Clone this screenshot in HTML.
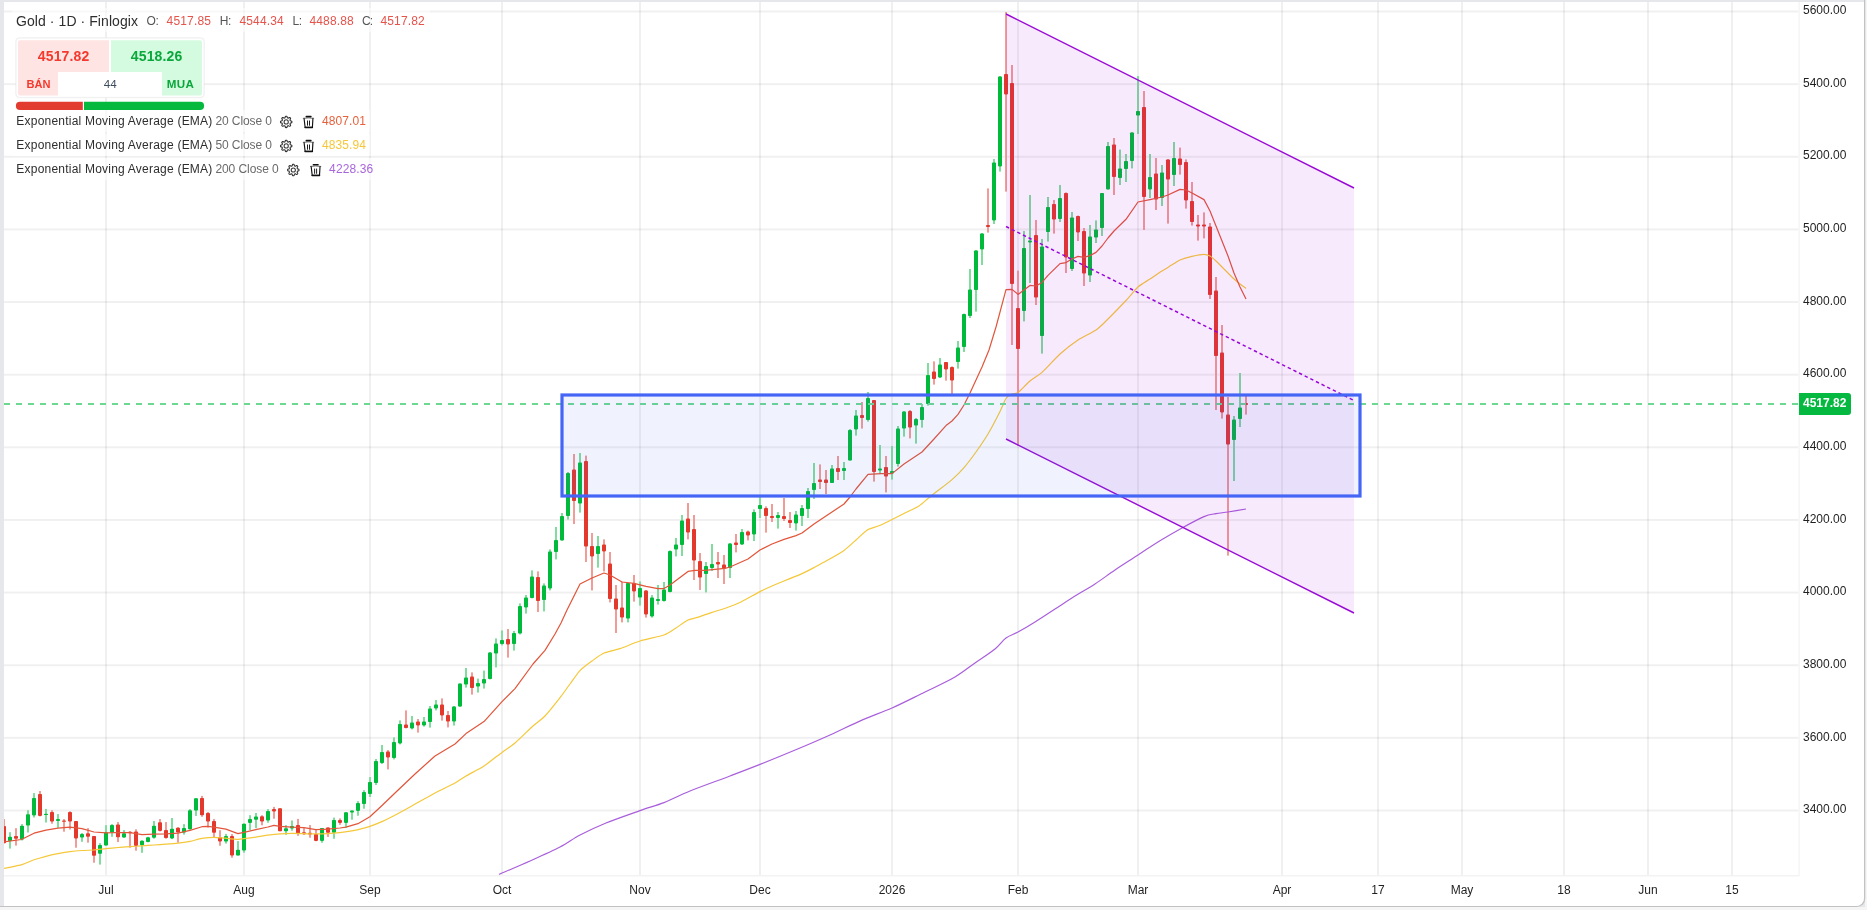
<!DOCTYPE html>
<html lang="vi"><head><meta charset="utf-8"><title>Gold 1D Finlogix</title>
<style>html,body{margin:0;padding:0;background:#f5f5f5}body{width:1867px;height:910px;overflow:hidden;position:relative;font-family:"Liberation Sans",Arial,sans-serif}</style>
</head><body>
<svg width="1867" height="910" viewBox="0 0 1867 910" style="position:absolute;left:0;top:0;display:block;will-change:transform" font-family="'Liberation Sans', Arial, sans-serif">
<rect x="0" y="0" width="1867" height="910" fill="#f5f5f5"/>
<rect x="0" y="0" width="1865" height="907" fill="#e5e7eb"/>
<path d="M0 0H1865.3V898.5a8.5 8.5 0 0 1 -8.5 8.5H0Z" fill="#c2c2c2"/>
<path d="M0 0H1864V898a8 8 0 0 1 -8 8H0Z" fill="#e5e7eb"/>
<path d="M4 2H1864V898a8 8 0 0 1 -8 8H4Z" fill="#ffffff"/>
<g fill="#000000" fill-opacity="0.058">
<rect x="105" y="2" width="2" height="873.5"/>
<rect x="243" y="2" width="2" height="873.5"/>
<rect x="369" y="2" width="2" height="873.5"/>
<rect x="501" y="2" width="2" height="873.5"/>
<rect x="639" y="2" width="2" height="873.5"/>
<rect x="759" y="2" width="2" height="873.5"/>
<rect x="891" y="2" width="2" height="873.5"/>
<rect x="1017" y="2" width="2" height="873.5"/>
<rect x="1137" y="2" width="2" height="873.5"/>
<rect x="1281" y="2" width="2" height="873.5"/>
<rect x="1377" y="2" width="2" height="873.5"/>
<rect x="1461" y="2" width="2" height="873.5"/>
<rect x="1563" y="2" width="2" height="873.5"/>
<rect x="1647" y="2" width="2" height="873.5"/>
<rect x="1731" y="2" width="2" height="873.5"/>
<rect x="4" y="10.50" width="1794.5" height="2"/>
<rect x="4" y="83.14" width="1794.5" height="2"/>
<rect x="4" y="155.77" width="1794.5" height="2"/>
<rect x="4" y="228.41" width="1794.5" height="2"/>
<rect x="4" y="301.04" width="1794.5" height="2"/>
<rect x="4" y="373.68" width="1794.5" height="2"/>
<rect x="4" y="446.32" width="1794.5" height="2"/>
<rect x="4" y="518.95" width="1794.5" height="2"/>
<rect x="4" y="591.59" width="1794.5" height="2"/>
<rect x="4" y="664.22" width="1794.5" height="2"/>
<rect x="4" y="736.86" width="1794.5" height="2"/>
<rect x="4" y="809.50" width="1794.5" height="2"/>
</g>
<rect x="4" y="875" width="1795" height="1.5" fill="#f3f3f5"/>
<rect x="1798.5" y="2" width="1.2" height="874" fill="#f3f3f5"/>
<defs><clipPath id="plot"><rect x="4" y="2" width="1795" height="873.5"/></clipPath></defs>
<g clip-path="url(#plot)">
<g shape-rendering="crispEdges">
</g>
<g>
<rect x="4" y="819.1" width="1" height="24.4" fill="#f19c96"/>
<rect x="9" y="832.2" width="2" height="16.4" fill="#80dd9d"/>
<rect x="15" y="828.2" width="2" height="17.4" fill="#f19c96"/>
<rect x="21" y="824.1" width="2" height="16.4" fill="#80dd9d"/>
<rect x="27" y="810.2" width="2" height="22.3" fill="#80dd9d"/>
<rect x="33" y="793.1" width="2" height="24.4" fill="#80dd9d"/>
<rect x="39" y="791.0" width="2" height="25.4" fill="#f19c96"/>
<rect x="45" y="808.9" width="2" height="13.6" fill="#80dd9d"/>
<rect x="51" y="810.2" width="2" height="13.5" fill="#f19c96"/>
<rect x="57" y="814.1" width="2" height="13.6" fill="#80dd9d"/>
<rect x="63" y="819.1" width="2" height="12.6" fill="#f19c96"/>
<rect x="69" y="811.3" width="2" height="18.2" fill="#f19c96"/>
<rect x="75" y="821.0" width="2" height="26.7" fill="#f19c96"/>
<rect x="81" y="833.0" width="2" height="8.8" fill="#80dd9d"/>
<rect x="87" y="828.2" width="2" height="14.5" fill="#f19c96"/>
<rect x="93" y="835.9" width="2" height="26.8" fill="#f19c96"/>
<rect x="99" y="843.2" width="2" height="21.4" fill="#80dd9d"/>
<rect x="105" y="825.2" width="2" height="20.4" fill="#80dd9d"/>
<rect x="111" y="824.1" width="2" height="12.7" fill="#80dd9d"/>
<rect x="117" y="822.1" width="2" height="20.0" fill="#f19c96"/>
<rect x="123" y="830.1" width="2" height="7.7" fill="#80dd9d"/>
<rect x="129" y="831.2" width="2" height="16.5" fill="#f19c96"/>
<rect x="135" y="829.3" width="2" height="21.4" fill="#f19c96"/>
<rect x="141" y="840.2" width="2" height="12.6" fill="#80dd9d"/>
<rect x="147" y="836.8" width="2" height="5.5" fill="#80dd9d"/>
<rect x="153" y="821.0" width="2" height="17.7" fill="#80dd9d"/>
<rect x="159" y="819.1" width="2" height="12.3" fill="#f19c96"/>
<rect x="165" y="822.1" width="2" height="16.6" fill="#f19c96"/>
<rect x="171" y="818.0" width="2" height="21.1" fill="#80dd9d"/>
<rect x="177" y="827.1" width="2" height="15.6" fill="#f19c96"/>
<rect x="183" y="824.1" width="2" height="10.5" fill="#80dd9d"/>
<rect x="189" y="809.1" width="2" height="20.7" fill="#80dd9d"/>
<rect x="195" y="798.0" width="2" height="17.9" fill="#80dd9d"/>
<rect x="201" y="795.9" width="2" height="20.9" fill="#f19c96"/>
<rect x="207" y="812.0" width="2" height="15.5" fill="#f19c96"/>
<rect x="213" y="819.1" width="2" height="18.0" fill="#f19c96"/>
<rect x="219" y="830.2" width="2" height="15.5" fill="#f19c96"/>
<rect x="225" y="833.9" width="2" height="9.7" fill="#80dd9d"/>
<rect x="231" y="834.1" width="2" height="23.6" fill="#f19c96"/>
<rect x="237" y="841.1" width="2" height="14.5" fill="#80dd9d"/>
<rect x="243" y="823.4" width="2" height="29.3" fill="#80dd9d"/>
<rect x="249" y="815.2" width="2" height="15.0" fill="#80dd9d"/>
<rect x="255" y="813.0" width="2" height="15.2" fill="#80dd9d"/>
<rect x="261" y="815.2" width="2" height="10.1" fill="#f19c96"/>
<rect x="267" y="809.1" width="2" height="13.6" fill="#80dd9d"/>
<rect x="273" y="806.9" width="2" height="11.8" fill="#f19c96"/>
<rect x="279" y="808.2" width="2" height="23.0" fill="#f19c96"/>
<rect x="285" y="825.1" width="2" height="9.7" fill="#80dd9d"/>
<rect x="291" y="820.5" width="2" height="10.2" fill="#80dd9d"/>
<rect x="297" y="818.9" width="2" height="16.9" fill="#f19c96"/>
<rect x="303" y="828.0" width="2" height="6.8" fill="#f19c96"/>
<rect x="309" y="825.1" width="2" height="12.6" fill="#f19c96"/>
<rect x="315" y="829.6" width="2" height="11.6" fill="#f19c96"/>
<rect x="321" y="828.0" width="2" height="14.7" fill="#80dd9d"/>
<rect x="327" y="827.2" width="2" height="9.7" fill="#f19c96"/>
<rect x="333" y="817.6" width="2" height="21.1" fill="#80dd9d"/>
<rect x="339" y="818.4" width="2" height="6.4" fill="#f19c96"/>
<rect x="345" y="812.0" width="2" height="15.7" fill="#80dd9d"/>
<rect x="351" y="810.4" width="2" height="9.3" fill="#80dd9d"/>
<rect x="357" y="801.2" width="2" height="14.5" fill="#80dd9d"/>
<rect x="363" y="790.2" width="2" height="18.5" fill="#80dd9d"/>
<rect x="369" y="777.1" width="2" height="19.9" fill="#80dd9d"/>
<rect x="375" y="759.0" width="2" height="26.0" fill="#80dd9d"/>
<rect x="381" y="745.0" width="2" height="19.0" fill="#80dd9d"/>
<rect x="387" y="750.0" width="2" height="19.4" fill="#f19c96"/>
<rect x="393" y="737.4" width="2" height="22.0" fill="#80dd9d"/>
<rect x="399" y="720.4" width="2" height="24.0" fill="#80dd9d"/>
<rect x="405" y="710.4" width="2" height="18.0" fill="#f19c96"/>
<rect x="411" y="716.0" width="2" height="13.4" fill="#80dd9d"/>
<rect x="417" y="719.0" width="2" height="13.6" fill="#f19c96"/>
<rect x="423" y="717.0" width="2" height="9.6" fill="#80dd9d"/>
<rect x="429" y="706.0" width="2" height="21.6" fill="#80dd9d"/>
<rect x="435" y="700.0" width="2" height="10.4" fill="#80dd9d"/>
<rect x="441" y="698.4" width="2" height="22.2" fill="#f19c96"/>
<rect x="447" y="711.0" width="2" height="16.4" fill="#f19c96"/>
<rect x="453" y="706.0" width="2" height="19.6" fill="#80dd9d"/>
<rect x="459" y="683.4" width="2" height="23.6" fill="#80dd9d"/>
<rect x="465" y="668.0" width="2" height="19.6" fill="#80dd9d"/>
<rect x="471" y="672.4" width="2" height="22.2" fill="#f19c96"/>
<rect x="477" y="678.6" width="2" height="14.0" fill="#80dd9d"/>
<rect x="483" y="670.6" width="2" height="18.0" fill="#80dd9d"/>
<rect x="489" y="652.0" width="2" height="27.4" fill="#80dd9d"/>
<rect x="495" y="638.4" width="2" height="29.0" fill="#80dd9d"/>
<rect x="501" y="630.4" width="2" height="15.0" fill="#80dd9d"/>
<rect x="507" y="629.0" width="2" height="28.6" fill="#f19c96"/>
<rect x="513" y="631.0" width="2" height="19.6" fill="#80dd9d"/>
<rect x="519" y="603.4" width="2" height="31.0" fill="#80dd9d"/>
<rect x="525" y="595.0" width="2" height="18.6" fill="#80dd9d"/>
<rect x="531" y="570.4" width="2" height="28.0" fill="#80dd9d"/>
<rect x="537" y="571.4" width="2" height="40.6" fill="#f19c96"/>
<rect x="543" y="583.4" width="2" height="28.0" fill="#80dd9d"/>
<rect x="549" y="549.4" width="2" height="41.0" fill="#80dd9d"/>
<rect x="555" y="527.0" width="2" height="32.4" fill="#80dd9d"/>
<rect x="561" y="513.0" width="2" height="27.6" fill="#80dd9d"/>
<rect x="567" y="472.0" width="2" height="47.6" fill="#80dd9d"/>
<rect x="573" y="454.0" width="2" height="70.0" fill="#f19c96"/>
<rect x="579" y="453.0" width="2" height="59.6" fill="#80dd9d"/>
<rect x="585" y="455.6" width="2" height="106.4" fill="#f19c96"/>
<rect x="591" y="533.0" width="2" height="57.4" fill="#f19c96"/>
<rect x="597" y="536.0" width="2" height="31.6" fill="#80dd9d"/>
<rect x="603" y="539.4" width="2" height="32.0" fill="#f19c96"/>
<rect x="609" y="552.0" width="2" height="50.4" fill="#f19c96"/>
<rect x="615" y="585.0" width="2" height="48.0" fill="#f19c96"/>
<rect x="621" y="581.6" width="2" height="40.8" fill="#f19c96"/>
<rect x="627" y="583.0" width="2" height="39.4" fill="#80dd9d"/>
<rect x="633" y="575.0" width="2" height="26.6" fill="#f19c96"/>
<rect x="639" y="581.4" width="2" height="24.2" fill="#80dd9d"/>
<rect x="645" y="590.0" width="2" height="27.6" fill="#f19c96"/>
<rect x="651" y="595.0" width="2" height="22.6" fill="#80dd9d"/>
<rect x="657" y="585.0" width="2" height="19.6" fill="#80dd9d"/>
<rect x="663" y="582.0" width="2" height="19.6" fill="#80dd9d"/>
<rect x="669" y="550.4" width="2" height="42.0" fill="#80dd9d"/>
<rect x="675" y="538.0" width="2" height="18.4" fill="#80dd9d"/>
<rect x="681" y="515.0" width="2" height="41.0" fill="#80dd9d"/>
<rect x="687" y="503.0" width="2" height="36.4" fill="#f19c96"/>
<rect x="693" y="515.0" width="2" height="65.0" fill="#f19c96"/>
<rect x="699" y="553.0" width="2" height="37.0" fill="#f19c96"/>
<rect x="705" y="562.0" width="2" height="30.4" fill="#80dd9d"/>
<rect x="711" y="544.0" width="2" height="27.0" fill="#80dd9d"/>
<rect x="717" y="552.0" width="2" height="26.0" fill="#f19c96"/>
<rect x="723" y="555.0" width="2" height="29.0" fill="#f19c96"/>
<rect x="729" y="543.0" width="2" height="35.0" fill="#80dd9d"/>
<rect x="735" y="534.0" width="2" height="18.4" fill="#f19c96"/>
<rect x="741" y="529.0" width="2" height="16.0" fill="#80dd9d"/>
<rect x="747" y="530.6" width="2" height="9.8" fill="#f19c96"/>
<rect x="753" y="509.4" width="2" height="31.6" fill="#80dd9d"/>
<rect x="759" y="497.0" width="2" height="21.0" fill="#80dd9d"/>
<rect x="765" y="506.4" width="2" height="26.2" fill="#f19c96"/>
<rect x="771" y="504.0" width="2" height="18.0" fill="#f19c96"/>
<rect x="777" y="512.0" width="2" height="16.6" fill="#80dd9d"/>
<rect x="783" y="498.0" width="2" height="23.0" fill="#f19c96"/>
<rect x="789" y="512.0" width="2" height="16.0" fill="#f19c96"/>
<rect x="795" y="511.0" width="2" height="19.6" fill="#80dd9d"/>
<rect x="801" y="505.0" width="2" height="21.0" fill="#80dd9d"/>
<rect x="807" y="488.0" width="2" height="30.0" fill="#80dd9d"/>
<rect x="813" y="463.0" width="2" height="36.0" fill="#80dd9d"/>
<rect x="819" y="464.4" width="2" height="24.6" fill="#f19c96"/>
<rect x="825" y="470.0" width="2" height="24.0" fill="#f19c96"/>
<rect x="831" y="465.0" width="2" height="18.0" fill="#80dd9d"/>
<rect x="837" y="456.0" width="2" height="24.0" fill="#f19c96"/>
<rect x="843" y="462.0" width="2" height="18.0" fill="#80dd9d"/>
<rect x="849" y="429.0" width="2" height="31.6" fill="#80dd9d"/>
<rect x="855" y="410.0" width="2" height="25.6" fill="#80dd9d"/>
<rect x="861" y="402.0" width="2" height="26.6" fill="#f19c96"/>
<rect x="867" y="392.0" width="2" height="29.6" fill="#80dd9d"/>
<rect x="873" y="400.0" width="2" height="81.6" fill="#f19c96"/>
<rect x="879" y="445.0" width="2" height="28.6" fill="#80dd9d"/>
<rect x="885" y="456.0" width="2" height="36.4" fill="#f19c96"/>
<rect x="891" y="446.0" width="2" height="33.6" fill="#80dd9d"/>
<rect x="897" y="426.0" width="2" height="40.6" fill="#80dd9d"/>
<rect x="903" y="411.0" width="2" height="25.6" fill="#80dd9d"/>
<rect x="909" y="410.0" width="2" height="28.4" fill="#f19c96"/>
<rect x="915" y="418.0" width="2" height="25.6" fill="#80dd9d"/>
<rect x="921" y="404.0" width="2" height="23.6" fill="#80dd9d"/>
<rect x="927" y="363.0" width="2" height="42.6" fill="#80dd9d"/>
<rect x="933" y="361.4" width="2" height="23.2" fill="#f19c96"/>
<rect x="939" y="358.0" width="2" height="20.0" fill="#80dd9d"/>
<rect x="945" y="362.0" width="2" height="18.6" fill="#f19c96"/>
<rect x="951" y="366.4" width="2" height="29.6" fill="#f19c96"/>
<rect x="957" y="341.0" width="2" height="27.6" fill="#80dd9d"/>
<rect x="963" y="313.6" width="2" height="38.4" fill="#80dd9d"/>
<rect x="969" y="269.0" width="2" height="49.0" fill="#80dd9d"/>
<rect x="975" y="250.0" width="2" height="61.6" fill="#80dd9d"/>
<rect x="981" y="233.0" width="2" height="32.0" fill="#80dd9d"/>
<rect x="987" y="188.4" width="2" height="44.2" fill="#f19c96"/>
<rect x="993" y="159.0" width="2" height="65.0" fill="#80dd9d"/>
<rect x="999" y="76.0" width="2" height="95.6" fill="#80dd9d"/>
<rect x="1005" y="12.0" width="2" height="179.6" fill="#f19c96"/>
<rect x="1011" y="65.0" width="2" height="280.0" fill="#f19c96"/>
<rect x="1017" y="270.6" width="2" height="175.4" fill="#f19c96"/>
<rect x="1023" y="231.0" width="2" height="90.4" fill="#80dd9d"/>
<rect x="1029" y="195.0" width="2" height="88.0" fill="#80dd9d"/>
<rect x="1035" y="220.0" width="2" height="85.0" fill="#f19c96"/>
<rect x="1041" y="239.0" width="2" height="114.6" fill="#80dd9d"/>
<rect x="1047" y="197.0" width="2" height="44.6" fill="#80dd9d"/>
<rect x="1053" y="200.0" width="2" height="33.6" fill="#f19c96"/>
<rect x="1059" y="185.0" width="2" height="37.0" fill="#80dd9d"/>
<rect x="1065" y="192.4" width="2" height="80.6" fill="#f19c96"/>
<rect x="1071" y="212.0" width="2" height="59.0" fill="#80dd9d"/>
<rect x="1077" y="215.6" width="2" height="25.4" fill="#f19c96"/>
<rect x="1083" y="228.0" width="2" height="58.0" fill="#f19c96"/>
<rect x="1089" y="225.0" width="2" height="57.0" fill="#80dd9d"/>
<rect x="1095" y="220.4" width="2" height="22.6" fill="#80dd9d"/>
<rect x="1101" y="193.0" width="2" height="43.0" fill="#80dd9d"/>
<rect x="1107" y="142.0" width="2" height="47.4" fill="#80dd9d"/>
<rect x="1113" y="138.0" width="2" height="57.0" fill="#f19c96"/>
<rect x="1119" y="149.6" width="2" height="35.4" fill="#80dd9d"/>
<rect x="1125" y="154.0" width="2" height="28.0" fill="#80dd9d"/>
<rect x="1131" y="132.0" width="2" height="36.4" fill="#80dd9d"/>
<rect x="1137" y="76.0" width="2" height="58.0" fill="#80dd9d"/>
<rect x="1143" y="91.0" width="2" height="139.0" fill="#f19c96"/>
<rect x="1149" y="154.0" width="2" height="44.0" fill="#80dd9d"/>
<rect x="1155" y="158.0" width="2" height="52.0" fill="#f19c96"/>
<rect x="1161" y="165.0" width="2" height="41.0" fill="#80dd9d"/>
<rect x="1167" y="159.0" width="2" height="64.6" fill="#f19c96"/>
<rect x="1173" y="142.0" width="2" height="44.0" fill="#80dd9d"/>
<rect x="1179" y="147.6" width="2" height="27.0" fill="#f19c96"/>
<rect x="1185" y="159.4" width="2" height="49.2" fill="#f19c96"/>
<rect x="1191" y="182.0" width="2" height="43.6" fill="#f19c96"/>
<rect x="1197" y="215.0" width="2" height="25.6" fill="#f19c96"/>
<rect x="1203" y="212.4" width="2" height="26.0" fill="#f19c96"/>
<rect x="1209" y="223.0" width="2" height="76.0" fill="#f19c96"/>
<rect x="1215" y="277.0" width="2" height="133.0" fill="#f19c96"/>
<rect x="1221" y="325.0" width="2" height="93.6" fill="#f19c96"/>
<rect x="1227" y="397.0" width="2" height="158.6" fill="#f19c96"/>
<rect x="1233" y="416.0" width="2" height="65.0" fill="#80dd9d"/>
<rect x="1239" y="373.0" width="2" height="54.0" fill="#80dd9d"/>
<rect x="1245" y="396.0" width="2" height="18.6" fill="#f19c96"/>
<rect x="4" y="826.1" width="2" height="17.1" rx="0.8" fill="#e3392c"/>
<rect x="8" y="836.8" width="4" height="4.3" rx="0.8" fill="#00ba3b"/>
<rect x="14" y="835.9" width="4" height="2.8" rx="0.8" fill="#e3392c"/>
<rect x="20" y="825.8" width="4" height="13.7" rx="0.8" fill="#00ba3b"/>
<rect x="26" y="814.3" width="4" height="11.2" rx="0.8" fill="#00ba3b"/>
<rect x="32" y="798.0" width="4" height="17.4" rx="0.8" fill="#00ba3b"/>
<rect x="38" y="794.1" width="4" height="21.8" rx="0.8" fill="#e3392c"/>
<rect x="44" y="813.7" width="4" height="1.4" rx="0.8" fill="#00ba3b"/>
<rect x="50" y="812.1" width="4" height="9.5" rx="0.8" fill="#e3392c"/>
<rect x="56" y="819.1" width="4" height="1.9" rx="0.8" fill="#00ba3b"/>
<rect x="62" y="820.5" width="4" height="1.3" rx="0.8" fill="#e3392c"/>
<rect x="68" y="812.1" width="4" height="9.5" rx="0.8" fill="#e3392c"/>
<rect x="74" y="821.0" width="4" height="17.4" rx="0.8" fill="#e3392c"/>
<rect x="80" y="834.1" width="4" height="3.5" rx="0.8" fill="#00ba3b"/>
<rect x="86" y="833.2" width="4" height="3.6" rx="0.8" fill="#e3392c"/>
<rect x="92" y="835.9" width="4" height="19.9" rx="0.8" fill="#e3392c"/>
<rect x="98" y="845.1" width="4" height="8.6" rx="0.8" fill="#00ba3b"/>
<rect x="104" y="832.2" width="4" height="13.4" rx="0.8" fill="#00ba3b"/>
<rect x="110" y="825.0" width="4" height="7.5" rx="0.8" fill="#00ba3b"/>
<rect x="116" y="824.5" width="4" height="12.8" rx="0.8" fill="#e3392c"/>
<rect x="122" y="833.2" width="4" height="4.3" rx="0.8" fill="#00ba3b"/>
<rect x="128" y="831.7" width="4" height="1.5" rx="0.8" fill="#e3392c"/>
<rect x="134" y="831.4" width="4" height="14.5" rx="0.8" fill="#e3392c"/>
<rect x="140" y="840.8" width="4" height="4.5" rx="0.8" fill="#00ba3b"/>
<rect x="146" y="837.3" width="4" height="4.8" rx="0.8" fill="#00ba3b"/>
<rect x="152" y="825.8" width="4" height="12.0" rx="0.8" fill="#00ba3b"/>
<rect x="158" y="822.3" width="4" height="8.6" rx="0.8" fill="#e3392c"/>
<rect x="164" y="830.1" width="4" height="8.0" rx="0.8" fill="#e3392c"/>
<rect x="170" y="828.7" width="4" height="9.7" rx="0.8" fill="#00ba3b"/>
<rect x="176" y="827.7" width="4" height="4.8" rx="0.8" fill="#e3392c"/>
<rect x="182" y="827.9" width="4" height="4.6" rx="0.8" fill="#00ba3b"/>
<rect x="188" y="810.2" width="4" height="19.1" rx="0.8" fill="#00ba3b"/>
<rect x="194" y="798.2" width="4" height="12.3" rx="0.8" fill="#00ba3b"/>
<rect x="200" y="798.0" width="4" height="17.2" rx="0.8" fill="#e3392c"/>
<rect x="206" y="813.0" width="4" height="8.6" rx="0.8" fill="#e3392c"/>
<rect x="212" y="821.1" width="4" height="11.7" rx="0.8" fill="#e3392c"/>
<rect x="218" y="837.1" width="4" height="4.3" rx="0.8" fill="#e3392c"/>
<rect x="224" y="836.1" width="4" height="5.5" rx="0.8" fill="#00ba3b"/>
<rect x="230" y="836.1" width="4" height="19.5" rx="0.8" fill="#e3392c"/>
<rect x="236" y="849.7" width="4" height="5.9" rx="0.8" fill="#00ba3b"/>
<rect x="242" y="823.7" width="4" height="26.8" rx="0.8" fill="#00ba3b"/>
<rect x="248" y="819.1" width="4" height="3.8" rx="0.8" fill="#00ba3b"/>
<rect x="254" y="816.6" width="4" height="3.1" rx="0.8" fill="#00ba3b"/>
<rect x="260" y="816.2" width="4" height="5.4" rx="0.8" fill="#e3392c"/>
<rect x="266" y="811.1" width="4" height="9.4" rx="0.8" fill="#00ba3b"/>
<rect x="272" y="809.1" width="4" height="2.3" rx="0.8" fill="#e3392c"/>
<rect x="278" y="808.2" width="4" height="23.0" rx="0.8" fill="#e3392c"/>
<rect x="284" y="828.2" width="4" height="3.0" rx="0.8" fill="#00ba3b"/>
<rect x="290" y="825.9" width="4" height="2.7" rx="0.8" fill="#00ba3b"/>
<rect x="296" y="825.1" width="4" height="8.3" rx="0.8" fill="#e3392c"/>
<rect x="302" y="832.3" width="4" height="1.9" rx="0.8" fill="#e3392c"/>
<rect x="308" y="832.8" width="4" height="1.7" rx="0.8" fill="#e3392c"/>
<rect x="314" y="833.9" width="4" height="7.0" rx="0.8" fill="#e3392c"/>
<rect x="320" y="828.0" width="4" height="12.9" rx="0.8" fill="#00ba3b"/>
<rect x="326" y="827.5" width="4" height="5.3" rx="0.8" fill="#e3392c"/>
<rect x="332" y="820.0" width="4" height="12.8" rx="0.8" fill="#00ba3b"/>
<rect x="338" y="820.0" width="4" height="2.9" rx="0.8" fill="#e3392c"/>
<rect x="344" y="812.2" width="4" height="10.7" rx="0.8" fill="#00ba3b"/>
<rect x="350" y="810.6" width="4" height="1.9" rx="0.8" fill="#00ba3b"/>
<rect x="356" y="803.1" width="4" height="7.8" rx="0.8" fill="#00ba3b"/>
<rect x="362" y="792.1" width="4" height="12.0" rx="0.8" fill="#00ba3b"/>
<rect x="368" y="782.0" width="4" height="12.1" rx="0.8" fill="#00ba3b"/>
<rect x="374" y="761.0" width="4" height="22.0" rx="0.8" fill="#00ba3b"/>
<rect x="380" y="752.0" width="4" height="11.0" rx="0.8" fill="#00ba3b"/>
<rect x="386" y="751.4" width="4" height="6.0" rx="0.8" fill="#e3392c"/>
<rect x="392" y="742.0" width="4" height="16.0" rx="0.8" fill="#00ba3b"/>
<rect x="398" y="724.0" width="4" height="19.4" rx="0.8" fill="#00ba3b"/>
<rect x="404" y="724.4" width="4" height="3.6" rx="0.8" fill="#e3392c"/>
<rect x="410" y="722.4" width="4" height="6.0" rx="0.8" fill="#00ba3b"/>
<rect x="416" y="721.6" width="4" height="3.8" rx="0.8" fill="#e3392c"/>
<rect x="422" y="721.6" width="4" height="3.8" rx="0.8" fill="#00ba3b"/>
<rect x="428" y="708.4" width="4" height="13.6" rx="0.8" fill="#00ba3b"/>
<rect x="434" y="704.4" width="4" height="4.0" rx="0.8" fill="#00ba3b"/>
<rect x="440" y="704.4" width="4" height="11.0" rx="0.8" fill="#e3392c"/>
<rect x="446" y="715.0" width="4" height="6.6" rx="0.8" fill="#e3392c"/>
<rect x="452" y="706.4" width="4" height="15.2" rx="0.8" fill="#00ba3b"/>
<rect x="458" y="683.6" width="4" height="23.0" rx="0.8" fill="#00ba3b"/>
<rect x="464" y="677.4" width="4" height="7.2" rx="0.8" fill="#00ba3b"/>
<rect x="470" y="676.6" width="4" height="11.4" rx="0.8" fill="#e3392c"/>
<rect x="476" y="683.0" width="4" height="3.6" rx="0.8" fill="#00ba3b"/>
<rect x="482" y="679.0" width="4" height="4.6" rx="0.8" fill="#00ba3b"/>
<rect x="488" y="652.4" width="4" height="26.6" rx="0.8" fill="#00ba3b"/>
<rect x="494" y="643.4" width="4" height="10.2" rx="0.8" fill="#00ba3b"/>
<rect x="500" y="640.0" width="4" height="4.0" rx="0.8" fill="#00ba3b"/>
<rect x="506" y="639.0" width="4" height="5.4" rx="0.8" fill="#e3392c"/>
<rect x="512" y="633.0" width="4" height="11.0" rx="0.8" fill="#00ba3b"/>
<rect x="518" y="606.0" width="4" height="27.6" rx="0.8" fill="#00ba3b"/>
<rect x="524" y="597.4" width="4" height="10.0" rx="0.8" fill="#00ba3b"/>
<rect x="530" y="576.4" width="4" height="21.6" rx="0.8" fill="#00ba3b"/>
<rect x="536" y="577.0" width="4" height="24.0" rx="0.8" fill="#e3392c"/>
<rect x="542" y="585.6" width="4" height="14.4" rx="0.8" fill="#00ba3b"/>
<rect x="548" y="551.4" width="4" height="37.0" rx="0.8" fill="#00ba3b"/>
<rect x="554" y="540.0" width="4" height="12.0" rx="0.8" fill="#00ba3b"/>
<rect x="560" y="516.0" width="4" height="24.4" rx="0.8" fill="#00ba3b"/>
<rect x="566" y="473.0" width="4" height="43.0" rx="0.8" fill="#00ba3b"/>
<rect x="572" y="469.6" width="4" height="31.4" rx="0.8" fill="#e3392c"/>
<rect x="578" y="462.4" width="4" height="41.2" rx="0.8" fill="#00ba3b"/>
<rect x="584" y="461.0" width="4" height="85.6" rx="0.8" fill="#e3392c"/>
<rect x="590" y="546.0" width="4" height="10.4" rx="0.8" fill="#e3392c"/>
<rect x="596" y="546.0" width="4" height="8.0" rx="0.8" fill="#00ba3b"/>
<rect x="602" y="544.4" width="4" height="7.0" rx="0.8" fill="#e3392c"/>
<rect x="608" y="563.4" width="4" height="35.6" rx="0.8" fill="#e3392c"/>
<rect x="614" y="598.4" width="4" height="11.2" rx="0.8" fill="#e3392c"/>
<rect x="620" y="607.6" width="4" height="10.0" rx="0.8" fill="#e3392c"/>
<rect x="626" y="583.0" width="4" height="35.6" rx="0.8" fill="#00ba3b"/>
<rect x="632" y="583.0" width="4" height="8.4" rx="0.8" fill="#e3392c"/>
<rect x="638" y="588.0" width="4" height="9.6" rx="0.8" fill="#00ba3b"/>
<rect x="644" y="590.4" width="4" height="24.0" rx="0.8" fill="#e3392c"/>
<rect x="650" y="597.4" width="4" height="19.0" rx="0.8" fill="#00ba3b"/>
<rect x="656" y="599.0" width="4" height="2.0" rx="0.8" fill="#00ba3b"/>
<rect x="662" y="589.6" width="4" height="11.4" rx="0.8" fill="#00ba3b"/>
<rect x="668" y="551.0" width="4" height="41.0" rx="0.8" fill="#00ba3b"/>
<rect x="674" y="544.4" width="4" height="5.2" rx="0.8" fill="#00ba3b"/>
<rect x="680" y="520.4" width="4" height="24.6" rx="0.8" fill="#00ba3b"/>
<rect x="686" y="518.4" width="4" height="14.2" rx="0.8" fill="#e3392c"/>
<rect x="692" y="529.0" width="4" height="31.6" rx="0.8" fill="#e3392c"/>
<rect x="698" y="561.0" width="4" height="16.6" rx="0.8" fill="#e3392c"/>
<rect x="704" y="566.0" width="4" height="8.0" rx="0.8" fill="#00ba3b"/>
<rect x="710" y="564.0" width="4" height="4.0" rx="0.8" fill="#00ba3b"/>
<rect x="716" y="562.0" width="4" height="2.4" rx="0.8" fill="#e3392c"/>
<rect x="722" y="564.4" width="4" height="4.0" rx="0.8" fill="#e3392c"/>
<rect x="728" y="543.4" width="4" height="24.6" rx="0.8" fill="#00ba3b"/>
<rect x="734" y="542.4" width="4" height="2.6" rx="0.8" fill="#e3392c"/>
<rect x="740" y="532.0" width="4" height="12.4" rx="0.8" fill="#00ba3b"/>
<rect x="746" y="531.6" width="4" height="3.8" rx="0.8" fill="#e3392c"/>
<rect x="752" y="512.0" width="4" height="22.4" rx="0.8" fill="#00ba3b"/>
<rect x="758" y="505.0" width="4" height="4.0" rx="0.8" fill="#00ba3b"/>
<rect x="764" y="508.0" width="4" height="8.0" rx="0.8" fill="#e3392c"/>
<rect x="770" y="516.0" width="4" height="2.0" rx="0.8" fill="#e3392c"/>
<rect x="776" y="515.0" width="4" height="3.0" rx="0.8" fill="#00ba3b"/>
<rect x="782" y="516.0" width="4" height="3.0" rx="0.8" fill="#e3392c"/>
<rect x="788" y="520.0" width="4" height="3.0" rx="0.8" fill="#e3392c"/>
<rect x="794" y="514.4" width="4" height="9.0" rx="0.8" fill="#00ba3b"/>
<rect x="800" y="508.0" width="4" height="8.0" rx="0.8" fill="#00ba3b"/>
<rect x="806" y="491.0" width="4" height="18.0" rx="0.8" fill="#00ba3b"/>
<rect x="812" y="483.0" width="4" height="7.0" rx="0.8" fill="#00ba3b"/>
<rect x="818" y="479.4" width="4" height="2.6" rx="0.8" fill="#e3392c"/>
<rect x="824" y="479.4" width="4" height="3.6" rx="0.8" fill="#e3392c"/>
<rect x="830" y="468.6" width="4" height="14.4" rx="0.8" fill="#00ba3b"/>
<rect x="836" y="468.0" width="4" height="4.0" rx="0.8" fill="#e3392c"/>
<rect x="842" y="468.0" width="4" height="3.0" rx="0.8" fill="#00ba3b"/>
<rect x="848" y="430.0" width="4" height="30.6" rx="0.8" fill="#00ba3b"/>
<rect x="854" y="415.6" width="4" height="13.8" rx="0.8" fill="#00ba3b"/>
<rect x="860" y="415.0" width="4" height="3.0" rx="0.8" fill="#e3392c"/>
<rect x="866" y="398.0" width="4" height="22.0" rx="0.8" fill="#00ba3b"/>
<rect x="872" y="400.0" width="4" height="72.0" rx="0.8" fill="#e3392c"/>
<rect x="878" y="468.6" width="4" height="2.0" rx="0.8" fill="#00ba3b"/>
<rect x="884" y="467.0" width="4" height="9.6" rx="0.8" fill="#e3392c"/>
<rect x="890" y="471.0" width="4" height="2.4" rx="0.8" fill="#00ba3b"/>
<rect x="896" y="428.4" width="4" height="35.6" rx="0.8" fill="#00ba3b"/>
<rect x="902" y="411.6" width="4" height="17.0" rx="0.8" fill="#00ba3b"/>
<rect x="908" y="411.0" width="4" height="16.6" rx="0.8" fill="#e3392c"/>
<rect x="914" y="419.0" width="4" height="6.6" rx="0.8" fill="#00ba3b"/>
<rect x="920" y="407.0" width="4" height="13.0" rx="0.8" fill="#00ba3b"/>
<rect x="926" y="375.0" width="4" height="29.0" rx="0.8" fill="#00ba3b"/>
<rect x="932" y="371.4" width="4" height="7.6" rx="0.8" fill="#e3392c"/>
<rect x="938" y="364.4" width="4" height="13.0" rx="0.8" fill="#00ba3b"/>
<rect x="944" y="362.0" width="4" height="7.4" rx="0.8" fill="#e3392c"/>
<rect x="950" y="367.0" width="4" height="13.6" rx="0.8" fill="#e3392c"/>
<rect x="956" y="347.6" width="4" height="14.4" rx="0.8" fill="#00ba3b"/>
<rect x="962" y="314.0" width="4" height="33.0" rx="0.8" fill="#00ba3b"/>
<rect x="968" y="289.6" width="4" height="26.4" rx="0.8" fill="#00ba3b"/>
<rect x="974" y="250.4" width="4" height="39.6" rx="0.8" fill="#00ba3b"/>
<rect x="980" y="233.6" width="4" height="15.8" rx="0.8" fill="#00ba3b"/>
<rect x="986" y="225.0" width="4" height="2.0" rx="0.8" fill="#e3392c"/>
<rect x="992" y="162.4" width="4" height="58.0" rx="0.8" fill="#00ba3b"/>
<rect x="998" y="76.6" width="4" height="89.8" rx="0.8" fill="#00ba3b"/>
<rect x="1004" y="74.0" width="4" height="20.4" rx="0.8" fill="#e3392c"/>
<rect x="1010" y="83.0" width="4" height="201.0" rx="0.8" fill="#e3392c"/>
<rect x="1016" y="308.0" width="4" height="41.0" rx="0.8" fill="#e3392c"/>
<rect x="1022" y="248.0" width="4" height="63.0" rx="0.8" fill="#00ba3b"/>
<rect x="1028" y="240.4" width="4" height="2.0" rx="0.8" fill="#00ba3b"/>
<rect x="1034" y="235.0" width="4" height="62.6" rx="0.8" fill="#e3392c"/>
<rect x="1040" y="246.4" width="4" height="89.6" rx="0.8" fill="#00ba3b"/>
<rect x="1046" y="207.0" width="4" height="25.0" rx="0.8" fill="#00ba3b"/>
<rect x="1052" y="204.0" width="4" height="15.6" rx="0.8" fill="#e3392c"/>
<rect x="1058" y="198.0" width="4" height="21.0" rx="0.8" fill="#00ba3b"/>
<rect x="1064" y="193.0" width="4" height="64.4" rx="0.8" fill="#e3392c"/>
<rect x="1070" y="217.4" width="4" height="51.6" rx="0.8" fill="#00ba3b"/>
<rect x="1076" y="216.0" width="4" height="16.4" rx="0.8" fill="#e3392c"/>
<rect x="1082" y="231.0" width="4" height="42.6" rx="0.8" fill="#e3392c"/>
<rect x="1088" y="236.6" width="4" height="39.0" rx="0.8" fill="#00ba3b"/>
<rect x="1094" y="229.4" width="4" height="8.2" rx="0.8" fill="#00ba3b"/>
<rect x="1100" y="193.0" width="4" height="35.0" rx="0.8" fill="#00ba3b"/>
<rect x="1106" y="146.0" width="4" height="43.4" rx="0.8" fill="#00ba3b"/>
<rect x="1112" y="144.4" width="4" height="32.6" rx="0.8" fill="#e3392c"/>
<rect x="1118" y="168.4" width="4" height="9.6" rx="0.8" fill="#00ba3b"/>
<rect x="1124" y="161.0" width="4" height="8.0" rx="0.8" fill="#00ba3b"/>
<rect x="1130" y="132.4" width="4" height="28.6" rx="0.8" fill="#00ba3b"/>
<rect x="1136" y="111.0" width="4" height="4.6" rx="0.8" fill="#00ba3b"/>
<rect x="1142" y="107.0" width="4" height="90.0" rx="0.8" fill="#e3392c"/>
<rect x="1148" y="177.0" width="4" height="12.4" rx="0.8" fill="#00ba3b"/>
<rect x="1154" y="173.6" width="4" height="26.0" rx="0.8" fill="#e3392c"/>
<rect x="1160" y="172.6" width="4" height="25.4" rx="0.8" fill="#00ba3b"/>
<rect x="1166" y="159.4" width="4" height="20.2" rx="0.8" fill="#e3392c"/>
<rect x="1172" y="158.0" width="4" height="17.0" rx="0.8" fill="#00ba3b"/>
<rect x="1178" y="158.6" width="4" height="6.4" rx="0.8" fill="#e3392c"/>
<rect x="1184" y="162.0" width="4" height="38.4" rx="0.8" fill="#e3392c"/>
<rect x="1190" y="201.0" width="4" height="21.0" rx="0.8" fill="#e3392c"/>
<rect x="1196" y="224.4" width="4" height="2.2" rx="0.8" fill="#e3392c"/>
<rect x="1202" y="224.4" width="4" height="2.2" rx="0.8" fill="#e3392c"/>
<rect x="1208" y="226.4" width="4" height="68.6" rx="0.8" fill="#e3392c"/>
<rect x="1214" y="290.4" width="4" height="65.6" rx="0.8" fill="#e3392c"/>
<rect x="1220" y="352.4" width="4" height="60.0" rx="0.8" fill="#e3392c"/>
<rect x="1226" y="414.6" width="4" height="30.0" rx="0.8" fill="#e3392c"/>
<rect x="1232" y="419.6" width="4" height="20.4" rx="0.8" fill="#00ba3b"/>
<rect x="1238" y="407.6" width="4" height="11.4" rx="0.8" fill="#00ba3b"/>
<rect x="1244" y="403.0" width="4" height="2.0" rx="0.8" fill="#e3392c"/>
</g>
<path d="M499.0 874.4C503.6 872.4 520.9 865.1 530.0 861.0C539.1 856.9 552.5 850.9 560.0 847.0C567.5 843.1 573.1 838.6 580.0 835.0C586.9 831.4 597.0 826.7 606.0 823.0C615.0 819.3 631.3 813.7 640.0 810.6C648.7 807.5 656.5 805.5 664.0 802.6C671.5 799.7 680.1 795.0 690.0 791.0C699.9 787.0 719.5 780.0 730.0 776.0C740.5 772.0 749.5 768.6 760.0 764.4C770.5 760.2 789.5 752.4 800.0 748.0C810.5 743.6 820.5 739.3 830.0 735.0C839.5 730.7 853.7 723.6 863.0 719.6C872.3 715.6 882.7 712.1 892.0 708.0C901.3 703.9 915.5 696.6 925.0 692.0C934.5 687.4 947.5 681.4 955.0 677.0C962.5 672.6 969.0 667.2 975.0 663.0C981.0 658.8 990.4 652.8 995.0 649.0C999.6 645.2 1002.5 640.5 1006.0 638.0C1009.5 635.5 1013.6 634.4 1018.0 632.0C1022.4 629.6 1029.5 625.5 1035.0 622.0C1040.5 618.5 1049.0 612.9 1055.0 609.0C1061.0 605.1 1069.0 599.8 1075.0 596.0C1081.0 592.2 1089.0 587.9 1095.0 584.0C1101.0 580.1 1108.5 574.4 1115.0 570.0C1121.5 565.6 1131.0 559.6 1138.0 555.0C1145.0 550.4 1155.4 543.6 1162.0 539.6C1168.6 535.6 1175.7 531.5 1182.0 528.0C1188.3 524.5 1198.9 518.8 1204.0 516.6C1209.1 514.4 1212.4 514.3 1216.0 513.6C1219.6 512.9 1223.5 512.7 1228.0 512.0C1232.5 511.3 1243.3 509.4 1246.0 509.0" fill="none" stroke="#a95fdc" stroke-width="1.2" stroke-linejoin="round" stroke-linecap="butt" />
<path d="M4.0 868.4C6.2 867.9 18.2 865.7 22.0 864.6C25.8 863.5 31.0 860.8 34.0 859.8C37.0 858.8 43.0 857.1 46.0 856.3C49.0 855.5 55.0 854.3 58.0 853.7C61.0 853.1 67.0 852.0 70.0 851.6C73.0 851.2 79.0 850.7 82.0 850.5C85.0 850.3 91.0 850.2 94.0 850.0C97.0 849.8 103.0 848.9 106.0 848.6C109.0 848.3 115.0 847.8 118.0 847.5C121.0 847.2 127.0 846.8 130.0 846.6C133.0 846.4 139.0 846.1 142.0 845.9C145.0 845.7 151.0 845.2 154.0 845.0C157.0 844.8 163.0 844.3 166.0 844.1C169.0 843.9 175.0 843.5 178.0 843.2C181.0 842.9 187.0 842.0 190.0 841.4C193.0 840.8 198.9 838.9 201.9 838.4C204.9 837.9 210.9 837.3 213.9 837.3C216.9 837.3 222.9 838.0 225.9 838.2C228.9 838.5 235.7 839.2 237.9 839.3C240.2 839.4 241.7 839.0 243.9 838.7C246.2 838.4 252.9 837.5 255.9 837.1C258.9 836.7 264.9 835.6 267.9 835.2C270.9 834.8 276.9 834.1 279.9 833.9C282.9 833.7 288.9 833.4 291.9 833.4C294.9 833.4 300.9 833.5 303.9 833.6C306.9 833.7 312.9 833.9 315.9 833.9C318.9 833.9 324.9 833.8 327.9 833.6C330.9 833.4 336.9 832.9 339.9 832.6C342.9 832.3 348.9 831.4 351.9 830.9C354.9 830.4 361.6 828.8 363.9 828.2C366.1 827.6 367.6 827.2 369.9 826.4C372.1 825.6 379.4 822.7 381.9 821.6C384.4 820.5 386.5 819.6 390.0 817.8C393.5 816.0 404.4 810.1 410.0 807.0C415.6 803.9 429.4 796.0 435.0 793.0C440.6 790.0 451.1 785.1 455.0 783.0C458.9 780.9 462.4 778.1 466.0 776.0C469.6 773.9 479.5 769.0 484.0 766.0C488.5 763.0 498.1 755.3 502.0 752.4C505.9 749.5 511.1 746.3 515.0 743.0C518.9 739.7 529.2 729.4 533.0 726.0C536.8 722.6 541.5 719.7 545.0 716.0C548.5 712.3 557.9 700.4 561.0 696.4C564.1 692.4 567.6 687.2 570.0 684.0C572.4 680.8 577.2 673.5 580.0 670.6C582.8 667.7 589.0 663.2 592.0 661.0C595.0 658.8 600.5 654.5 604.0 653.0C607.5 651.5 615.5 650.1 620.0 648.6C624.5 647.1 634.5 642.7 640.0 641.0C645.5 639.3 659.5 636.6 664.0 635.0C668.5 633.4 673.0 629.9 676.0 628.0C679.0 626.1 685.0 621.4 688.0 620.0C691.0 618.6 697.0 617.6 700.0 616.6C703.0 615.6 708.8 613.5 712.0 612.4C715.2 611.3 722.4 609.3 726.0 608.0C729.6 606.7 736.8 604.0 741.0 602.0C745.2 600.0 756.1 593.6 760.0 591.6C763.9 589.6 769.0 587.3 772.0 586.0C775.0 584.7 780.2 582.5 784.0 581.0C787.8 579.5 798.2 575.3 802.0 573.6C805.8 571.9 811.0 569.2 814.0 567.6C817.0 566.0 822.2 563.1 826.0 561.0C829.8 558.9 840.2 553.0 844.0 550.4C847.8 547.8 853.0 542.6 856.0 540.0C859.0 537.4 864.9 531.5 868.0 529.6C871.1 527.7 876.1 527.2 881.0 525.0C885.9 522.8 902.2 514.4 907.0 512.0C911.8 509.6 916.0 508.0 919.0 506.0C922.0 504.0 926.9 499.3 931.0 496.0C935.1 492.7 947.9 483.2 952.0 479.6C956.1 476.1 961.0 471.1 964.0 467.6C967.0 464.2 973.0 456.2 976.0 452.0C979.0 447.8 985.0 439.1 988.0 434.0C991.0 428.9 997.8 415.9 1000.0 411.5C1002.2 407.1 1004.5 400.7 1006.0 398.5C1007.5 396.3 1010.5 394.7 1012.0 394.0C1013.5 393.3 1015.8 394.2 1018.0 392.6C1020.2 391.0 1027.0 383.5 1030.0 381.0C1033.0 378.5 1038.2 375.8 1042.0 372.4C1045.8 369.0 1055.5 358.1 1060.0 354.0C1064.5 349.9 1073.5 343.0 1078.0 340.0C1082.5 337.0 1092.2 332.6 1096.0 330.0C1099.8 327.4 1104.2 322.7 1108.0 319.0C1111.8 315.3 1122.2 304.5 1126.0 300.5C1129.8 296.5 1135.0 289.7 1138.0 287.0C1141.0 284.3 1147.0 281.0 1150.0 279.0C1153.0 277.0 1159.0 272.9 1162.0 271.0C1165.0 269.1 1171.8 265.0 1174.0 263.6C1176.2 262.2 1177.8 260.9 1180.0 260.0C1182.2 259.1 1189.0 257.1 1192.0 256.4C1195.0 255.7 1201.8 254.4 1204.0 254.4C1206.2 254.4 1208.5 255.2 1210.0 256.0C1211.5 256.8 1214.5 259.6 1216.0 261.0C1217.5 262.4 1220.5 265.5 1222.0 267.0C1223.5 268.5 1226.5 271.5 1228.0 273.0C1229.5 274.5 1232.5 277.6 1234.0 279.0C1235.5 280.4 1238.5 282.8 1240.0 284.0C1241.5 285.2 1245.2 287.8 1246.0 288.4" fill="none" stroke="#f5c83a" stroke-width="1.2" stroke-linejoin="round" stroke-linecap="butt" />
<path d="M4.0 841.9C4.0 841.9 21.4 839.5 21.4 839.5C21.4 839.5 34.0 833.2 34.0 833.2C34.0 833.2 46.0 830.1 46.0 830.1C46.0 830.1 58.0 828.2 58.0 828.2C58.0 828.2 70.0 827.1 70.0 827.1C70.0 827.1 82.0 828.7 82.0 828.7C82.0 828.7 94.0 832.0 94.0 832.0C94.0 832.0 106.0 832.8 106.0 832.8C106.0 832.8 118.0 832.5 118.0 832.5C118.0 832.5 130.0 832.7 130.0 832.7C130.0 832.7 142.0 834.6 142.0 834.6C142.0 834.6 154.0 834.1 154.0 834.1C154.0 834.1 166.0 833.8 166.0 833.8C166.0 833.8 178.0 833.2 178.0 833.2C178.0 833.2 190.0 830.4 190.0 830.4C190.0 830.4 201.9 826.7 201.9 826.7C201.9 826.7 207.9 826.4 207.9 826.4C207.9 826.4 213.9 827.2 213.9 827.2C213.9 827.2 225.9 829.1 225.9 829.1C225.9 829.1 237.9 833.6 237.9 833.6C237.9 833.6 243.9 832.3 243.9 832.3C243.9 832.3 255.9 829.6 255.9 829.6C255.9 829.6 267.9 827.0 267.9 827.0C267.9 827.0 273.9 825.3 273.9 825.3C273.9 825.3 279.9 826.4 279.9 826.4C279.9 826.4 291.9 827.2 291.9 827.2C291.9 827.2 303.9 827.7 303.9 827.7C303.9 827.7 315.9 829.6 315.9 829.6C315.9 829.6 327.9 829.1 327.9 829.1C327.9 829.1 339.9 828.0 339.9 828.0C339.9 828.0 345.9 827.2 345.9 827.2C345.9 827.2 357.9 823.7 357.9 823.7C357.9 823.7 369.9 816.8 369.9 816.8C369.9 816.8 381.5 806.0 381.5 806.0C381.5 806.0 395.0 793.0 395.0 793.0C395.0 793.0 415.0 774.0 415.0 774.0C415.0 774.0 435.0 756.0 435.0 756.0C435.0 756.0 455.0 744.0 455.0 744.0C455.0 744.0 466.0 733.6 466.0 733.6C466.0 733.6 484.0 721.6 484.0 721.6C484.0 721.6 502.0 701.6 502.0 701.6C502.0 701.6 515.0 688.6 515.0 688.6C515.0 688.6 533.0 664.0 533.0 664.0C533.0 664.0 545.0 650.4 545.0 650.4C545.0 650.4 555.0 634.0 555.0 634.0C555.0 634.0 561.0 623.0 561.0 623.0C561.0 623.0 567.0 610.0 567.0 610.0C567.0 610.0 580.0 584.0 580.0 584.0C580.0 584.0 592.0 578.0 592.0 578.0C592.0 578.0 604.0 573.0 604.0 573.0C604.0 573.0 610.0 575.0 610.0 575.0C610.0 575.0 622.0 582.0 622.0 582.0C622.0 582.0 634.0 583.4 634.0 583.4C634.0 583.4 646.0 586.4 646.0 586.4C646.0 586.4 658.0 588.6 658.0 588.6C658.0 588.6 664.0 588.6 664.0 588.6C664.0 588.6 670.0 585.0 670.0 585.0C670.0 585.0 682.0 576.0 682.0 576.0C682.0 576.0 688.0 571.4 688.0 571.4C688.0 571.4 695.0 570.4 695.0 570.4C695.0 570.4 705.0 570.4 705.0 570.4C705.0 570.4 725.0 568.4 725.0 568.4C725.0 568.4 730.0 567.0 730.0 567.0C730.0 567.0 748.0 559.0 748.0 559.0C748.0 559.0 760.0 550.0 760.0 550.0C760.0 550.0 772.0 544.0 772.0 544.0C772.0 544.0 784.0 539.4 784.0 539.4C784.0 539.4 796.0 535.6 796.0 535.6C796.0 535.6 802.0 533.0 802.0 533.0C802.0 533.0 814.0 524.0 814.0 524.0C814.0 524.0 826.0 516.0 826.0 516.0C826.0 516.0 844.0 504.0 844.0 504.0C844.0 504.0 850.0 497.0 850.0 497.0C850.0 497.0 856.0 489.0 856.0 489.0C856.0 489.0 868.0 474.4 868.0 474.4C868.0 474.4 881.0 473.6 881.0 473.6C881.0 473.6 892.0 473.6 892.0 473.6C892.0 473.6 904.0 464.0 904.0 464.0C904.0 464.0 922.0 452.0 922.0 452.0C922.0 452.0 934.0 439.0 934.0 439.0C934.0 439.0 946.0 425.6 946.0 425.6C946.0 425.6 952.0 421.0 952.0 421.0C952.0 421.0 958.0 414.4 958.0 414.4C958.0 414.4 964.0 405.0 964.0 405.0C964.0 405.0 970.0 393.0 970.0 393.0C970.0 393.0 982.0 367.0 982.0 367.0C982.0 367.0 989.0 350.0 989.0 350.0C989.0 350.0 996.0 327.0 996.0 327.0C996.0 327.0 1006.0 289.6 1006.0 289.6C1006.0 289.6 1012.0 289.4 1012.0 289.4C1012.0 289.4 1018.0 294.4 1018.0 294.4C1018.0 294.4 1030.0 285.4 1030.0 285.4C1030.0 285.4 1036.0 286.0 1036.0 286.0C1036.0 286.0 1042.0 282.4 1042.0 282.4C1042.0 282.4 1048.0 275.4 1048.0 275.4C1048.0 275.4 1060.0 263.6 1060.0 263.6C1060.0 263.6 1066.0 262.6 1066.0 262.6C1066.0 262.6 1072.0 259.0 1072.0 259.0C1072.0 259.0 1078.0 256.4 1078.0 256.4C1078.0 256.4 1084.0 257.4 1084.0 257.4C1084.0 257.4 1090.0 255.6 1090.0 255.6C1090.0 255.6 1096.0 252.4 1096.0 252.4C1096.0 252.4 1102.0 246.0 1102.0 246.0C1102.0 246.0 1108.0 238.0 1108.0 238.0C1108.0 238.0 1114.0 231.0 1114.0 231.0C1114.0 231.0 1126.0 219.3 1126.0 219.3C1126.0 219.3 1138.0 202.0 1138.0 202.0C1138.0 202.0 1150.0 199.6 1150.0 199.6C1150.0 199.6 1162.0 197.0 1162.0 197.0C1162.0 197.0 1168.0 195.0 1168.0 195.0C1168.0 195.0 1180.0 189.4 1180.0 189.4C1180.0 189.4 1186.0 190.0 1186.0 190.0C1186.0 190.0 1192.0 193.0 1192.0 193.0C1192.0 193.0 1204.0 199.6 1204.0 199.6C1204.0 199.6 1210.0 211.0 1210.0 211.0C1210.0 211.0 1216.0 226.0 1216.0 226.0C1216.0 226.0 1222.0 241.0 1222.0 241.0C1222.0 241.0 1228.0 256.0 1228.0 256.0C1228.0 256.0 1234.0 273.0 1234.0 273.0C1234.0 273.0 1240.0 287.0 1240.0 287.0C1240.0 287.0 1246.0 299.0 1246.0 299.0" fill="none" stroke="#e2553a" stroke-width="1.2" stroke-linejoin="round" stroke-linecap="butt" />
<line x1="4" y1="404" x2="1799" y2="404" stroke="#6dd892" stroke-width="2" stroke-dasharray="6 6"/>
<polygon points="1006,14 1354,188 1354,613 1006,439" fill="#9900dd" fill-opacity="0.082"/>
<line x1="1006" y1="14" x2="1354" y2="188" stroke="#9808d8" stroke-width="1.4"/>
<line x1="1006" y1="439" x2="1354" y2="613" stroke="#9808d8" stroke-width="1.4"/>
<line x1="1006" y1="226.5" x2="1354" y2="400.5" stroke="#9808d8" stroke-width="1.5" stroke-dasharray="3.4 2.9"/>
<rect x="562" y="395" width="798" height="101" fill="#4565f7" fill-opacity="0.08" stroke="#4565f7" stroke-width="3.2"/>
</g>
<g font-size="12" fill="#1f1f1f">
<text x="1803" y="14.1">5600.00</text>
<text x="1803" y="86.7">5400.00</text>
<text x="1803" y="159.4">5200.00</text>
<text x="1803" y="232.0">5000.00</text>
<text x="1803" y="304.6">4800.00</text>
<text x="1803" y="377.3">4600.00</text>
<text x="1803" y="449.9">4400.00</text>
<text x="1803" y="522.6">4200.00</text>
<text x="1803" y="595.2">4000.00</text>
<text x="1803" y="667.8">3800.00</text>
<text x="1803" y="740.5">3600.00</text>
<text x="1803" y="813.1">3400.00</text>
</g>
<path d="M1799 393H1848a3 3 0 0 1 3 3V412a3 3 0 0 1 -3 3H1799Z" fill="#05b840"/>
<text x="1803" y="407" font-size="12" font-weight="bold" fill="#ffffff">4517.82</text>
<g font-size="12" fill="#1f1f1f" text-anchor="middle">
<text x="106" y="894">Jul</text>
<text x="244" y="894">Aug</text>
<text x="370" y="894">Sep</text>
<text x="502" y="894">Oct</text>
<text x="640" y="894">Nov</text>
<text x="760" y="894">Dec</text>
<text x="892" y="894">2026</text>
<text x="1018" y="894">Feb</text>
<text x="1138" y="894">Mar</text>
<text x="1282" y="894">Apr</text>
<text x="1378" y="894">17</text>
<text x="1462" y="894">May</text>
<text x="1564" y="894">18</text>
<text x="1648" y="894">Jun</text>
<text x="1732" y="894">15</text>
</g>
<rect x="12" y="8" width="418" height="24" fill="#ffffff" fill-opacity="0.55"/>
<rect x="12" y="110" width="358" height="22" fill="#ffffff" fill-opacity="0.55"/>
<rect x="12" y="134" width="358" height="22" fill="#ffffff" fill-opacity="0.55"/>
<rect x="12" y="158" width="366" height="22" fill="#ffffff" fill-opacity="0.55"/>
<text x="16" y="26" font-size="14" fill="#2e2e2e" textLength="122" lengthAdjust="spacing">Gold · 1D · Finlogix</text>
<text x="146.4" y="25.3" font-size="12" fill="#555" textLength="12.4" lengthAdjust="spacing">O:</text>
<text x="166.6" y="25.3" font-size="12" fill="#e5534b" textLength="44.3" lengthAdjust="spacing">4517.85</text>
<text x="219.8" y="25.3" font-size="12" fill="#555" textLength="11.6" lengthAdjust="spacing">H:</text>
<text x="239.4" y="25.3" font-size="12" fill="#e5534b" textLength="44.3" lengthAdjust="spacing">4544.34</text>
<text x="292.4" y="25.3" font-size="12" fill="#555" textLength="9.6" lengthAdjust="spacing">L:</text>
<text x="309.4" y="25.3" font-size="12" fill="#e5534b" textLength="44.3" lengthAdjust="spacing">4488.88</text>
<text x="362" y="25.3" font-size="12" fill="#555" textLength="11" lengthAdjust="spacing">C:</text>
<text x="380.4" y="25.3" font-size="12" fill="#e5534b" textLength="44.3" lengthAdjust="spacing">4517.82</text>
<rect x="15.2" y="37.2" width="189.6" height="61" rx="4" fill="#000" fill-opacity="0.035"/>
<rect x="16" y="38" width="188" height="59.4" rx="3.5" fill="#ffffff" stroke="#ececec" stroke-width="0.8"/>
<path d="M20 40.2H109V72H58V95.6H20a2 2 0 0 1 -2 -2V42.2a2 2 0 0 1 2 -2Z" fill="#ffe4e4"/>
<path d="M111 40.2H200a2 2 0 0 1 2 2V93.6a2 2 0 0 1 -2 2H162V72H111Z" fill="#d4fbdf"/>
<text x="63.5" y="61" font-size="14" font-weight="bold" fill="#f5382c" text-anchor="middle" textLength="51.4" lengthAdjust="spacing">4517.82</text>
<text x="156.5" y="61" font-size="14" font-weight="bold" fill="#0aa73c" text-anchor="middle" textLength="51.4" lengthAdjust="spacing">4518.26</text>
<text x="38.5" y="87.8" font-size="11.6" font-weight="bold" fill="#f5382c" text-anchor="middle" textLength="24" lengthAdjust="spacingAndGlyphs">BÁN</text>
<text x="180.4" y="87.8" font-size="11.6" font-weight="bold" fill="#0aa73c" text-anchor="middle" textLength="27.2" lengthAdjust="spacing">MUA</text>
<text x="110.2" y="87.8" font-size="11.6" fill="#3d4b5e" text-anchor="middle">44</text>
<path d="M20 101.8H82.8V110H20a4.1 4.1 0 0 1 0 -8.2Z" fill="#e23b30"/>
<path d="M84 101.8H200a4.1 4.1 0 0 1 0 8.2H84Z" fill="#05b93e"/>
<text x="16.3" y="124.9" font-size="12" fill="#2e2e2e" textLength="196" lengthAdjust="spacing">Exponential Moving Average (EMA)</text>
<text x="215.4" y="124.9" font-size="12" fill="#6a6a6a" textLength="56.6" lengthAdjust="spacing">20 Close 0</text>
<path d="M286.20 116.20L286.57 116.21L286.93 116.39L287.17 117.02L287.34 117.65L287.57 117.88L287.83 117.97L288.08 118.09L288.40 118.09L288.96 117.76L289.58 117.49L289.96 117.61L290.23 117.87L290.49 118.14L290.61 118.52L290.34 119.14L290.01 119.70L290.01 120.02L290.13 120.27L290.22 120.53L290.45 120.76L291.08 120.93L291.71 121.17L291.89 121.53L291.90 121.90L291.89 122.27L291.71 122.63L291.08 122.87L290.45 123.04L290.22 123.27L290.13 123.53L290.01 123.78L290.01 124.10L290.34 124.66L290.61 125.28L290.49 125.66L290.23 125.93L289.96 126.19L289.58 126.31L288.96 126.04L288.40 125.71L288.08 125.71L287.83 125.83L287.57 125.92L287.34 126.15L287.17 126.78L286.93 127.41L286.57 127.59L286.20 127.60L285.83 127.59L285.47 127.41L285.23 126.78L285.06 126.15L284.83 125.92L284.57 125.83L284.32 125.71L284.00 125.71L283.44 126.04L282.82 126.31L282.44 126.19L282.17 125.93L281.91 125.66L281.79 125.28L282.06 124.66L282.39 124.10L282.39 123.78L282.27 123.53L282.18 123.27L281.95 123.04L281.32 122.87L280.69 122.63L280.51 122.27L280.50 121.90L280.51 121.53L280.69 121.17L281.32 120.93L281.95 120.76L282.18 120.53L282.27 120.27L282.39 120.02L282.39 119.70L282.06 119.14L281.79 118.52L281.91 118.14L282.17 117.87L282.44 117.61L282.82 117.49L283.44 117.76L284.00 118.09L284.32 118.09L284.57 117.97L284.83 117.88L285.06 117.65L285.23 117.02L285.47 116.39L285.83 116.21L286.20 116.20Z" fill="none" stroke="#303030" stroke-width="1.1" stroke-linejoin="round"/><circle cx="286.2" cy="121.9" r="2.1" fill="none" stroke="#3a3a3a" stroke-width="1.05"/>
<g fill="none" stroke="#111" stroke-linecap="round" stroke-linejoin="round"><path d="M306.3 116.60000000000001H310.9" stroke-width="1.6"/><path d="M303.3 118.30000000000001Q308.5 117.30000000000001 313.7 118.30000000000001" stroke-width="0.9" stroke="#555"/><path d="M304.1 118.7L305.1 127.30000000000001H312.4L312.9 118.7" stroke-width="1.15"/><path d="M305.1 127.4H312.4" stroke-width="1.5"/><path d="M307.5 120.9V125.30000000000001M309.5 120.9V125.30000000000001" stroke-width="0.95"/></g>
<text x="322" y="124.9" font-size="12" fill="#e8603c" textLength="44" lengthAdjust="spacing">4807.01</text>
<text x="16.3" y="148.9" font-size="12" fill="#2e2e2e" textLength="196" lengthAdjust="spacing">Exponential Moving Average (EMA)</text>
<text x="215.4" y="148.9" font-size="12" fill="#6a6a6a" textLength="56.6" lengthAdjust="spacing">50 Close 0</text>
<path d="M286.20 140.20L286.57 140.21L286.93 140.39L287.17 141.02L287.34 141.65L287.57 141.88L287.83 141.97L288.08 142.09L288.40 142.09L288.96 141.76L289.58 141.49L289.96 141.61L290.23 141.87L290.49 142.14L290.61 142.52L290.34 143.14L290.01 143.70L290.01 144.02L290.13 144.27L290.22 144.53L290.45 144.76L291.08 144.93L291.71 145.17L291.89 145.53L291.90 145.90L291.89 146.27L291.71 146.63L291.08 146.87L290.45 147.04L290.22 147.27L290.13 147.53L290.01 147.78L290.01 148.10L290.34 148.66L290.61 149.28L290.49 149.66L290.23 149.93L289.96 150.19L289.58 150.31L288.96 150.04L288.40 149.71L288.08 149.71L287.83 149.83L287.57 149.92L287.34 150.15L287.17 150.78L286.93 151.41L286.57 151.59L286.20 151.60L285.83 151.59L285.47 151.41L285.23 150.78L285.06 150.15L284.83 149.92L284.57 149.83L284.32 149.71L284.00 149.71L283.44 150.04L282.82 150.31L282.44 150.19L282.17 149.93L281.91 149.66L281.79 149.28L282.06 148.66L282.39 148.10L282.39 147.78L282.27 147.53L282.18 147.27L281.95 147.04L281.32 146.87L280.69 146.63L280.51 146.27L280.50 145.90L280.51 145.53L280.69 145.17L281.32 144.93L281.95 144.76L282.18 144.53L282.27 144.27L282.39 144.02L282.39 143.70L282.06 143.14L281.79 142.52L281.91 142.14L282.17 141.87L282.44 141.61L282.82 141.49L283.44 141.76L284.00 142.09L284.32 142.09L284.57 141.97L284.83 141.88L285.06 141.65L285.23 141.02L285.47 140.39L285.83 140.21L286.20 140.20Z" fill="none" stroke="#303030" stroke-width="1.1" stroke-linejoin="round"/><circle cx="286.2" cy="145.9" r="2.1" fill="none" stroke="#3a3a3a" stroke-width="1.05"/>
<g fill="none" stroke="#111" stroke-linecap="round" stroke-linejoin="round"><path d="M306.3 140.6H310.9" stroke-width="1.6"/><path d="M303.3 142.3Q308.5 141.3 313.7 142.3" stroke-width="0.9" stroke="#555"/><path d="M304.1 142.70000000000002L305.1 151.3H312.4L312.9 142.70000000000002" stroke-width="1.15"/><path d="M305.1 151.4H312.4" stroke-width="1.5"/><path d="M307.5 144.9V149.3M309.5 144.9V149.3" stroke-width="0.95"/></g>
<text x="322" y="148.9" font-size="12" fill="#f6c73a" textLength="44" lengthAdjust="spacing">4835.94</text>
<text x="16.3" y="173.0" font-size="12" fill="#2e2e2e" textLength="196" lengthAdjust="spacing">Exponential Moving Average (EMA)</text>
<text x="215.4" y="173.0" font-size="12" fill="#6a6a6a" textLength="63.4" lengthAdjust="spacing">200 Close 0</text>
<path d="M293.30 164.30L293.67 164.31L294.03 164.49L294.27 165.12L294.44 165.75L294.67 165.98L294.93 166.07L295.18 166.19L295.50 166.19L296.06 165.86L296.68 165.59L297.06 165.71L297.33 165.97L297.59 166.24L297.71 166.62L297.44 167.24L297.11 167.80L297.11 168.12L297.23 168.37L297.32 168.63L297.55 168.86L298.18 169.03L298.81 169.27L298.99 169.63L299.00 170.00L298.99 170.37L298.81 170.73L298.18 170.97L297.55 171.14L297.32 171.37L297.23 171.63L297.11 171.88L297.11 172.20L297.44 172.76L297.71 173.38L297.59 173.76L297.33 174.03L297.06 174.29L296.68 174.41L296.06 174.14L295.50 173.81L295.18 173.81L294.93 173.93L294.67 174.02L294.44 174.25L294.27 174.88L294.03 175.51L293.67 175.69L293.30 175.70L292.93 175.69L292.57 175.51L292.33 174.88L292.16 174.25L291.93 174.02L291.67 173.93L291.42 173.81L291.10 173.81L290.54 174.14L289.92 174.41L289.54 174.29L289.27 174.03L289.01 173.76L288.89 173.38L289.16 172.76L289.49 172.20L289.49 171.88L289.37 171.63L289.28 171.37L289.05 171.14L288.42 170.97L287.79 170.73L287.61 170.37L287.60 170.00L287.61 169.63L287.79 169.27L288.42 169.03L289.05 168.86L289.28 168.63L289.37 168.37L289.49 168.12L289.49 167.80L289.16 167.24L288.89 166.62L289.01 166.24L289.27 165.97L289.54 165.71L289.92 165.59L290.54 165.86L291.10 166.19L291.42 166.19L291.67 166.07L291.93 165.98L292.16 165.75L292.33 165.12L292.57 164.49L292.93 164.31L293.30 164.30Z" fill="none" stroke="#303030" stroke-width="1.1" stroke-linejoin="round"/><circle cx="293.3" cy="170.0" r="2.1" fill="none" stroke="#3a3a3a" stroke-width="1.05"/>
<g fill="none" stroke="#111" stroke-linecap="round" stroke-linejoin="round"><path d="M313.40000000000003 164.7H318.0" stroke-width="1.6"/><path d="M310.40000000000003 166.4Q315.6 165.4 320.8 166.4" stroke-width="0.9" stroke="#555"/><path d="M311.20000000000005 166.8L312.20000000000005 175.4H319.5L320.0 166.8" stroke-width="1.15"/><path d="M312.20000000000005 175.5H319.5" stroke-width="1.5"/><path d="M314.6 169.0V173.4M316.6 169.0V173.4" stroke-width="0.95"/></g>
<text x="329.1" y="173.0" font-size="12" fill="#a866dd" textLength="44" lengthAdjust="spacing">4228.36</text>
</svg>
</body></html>
